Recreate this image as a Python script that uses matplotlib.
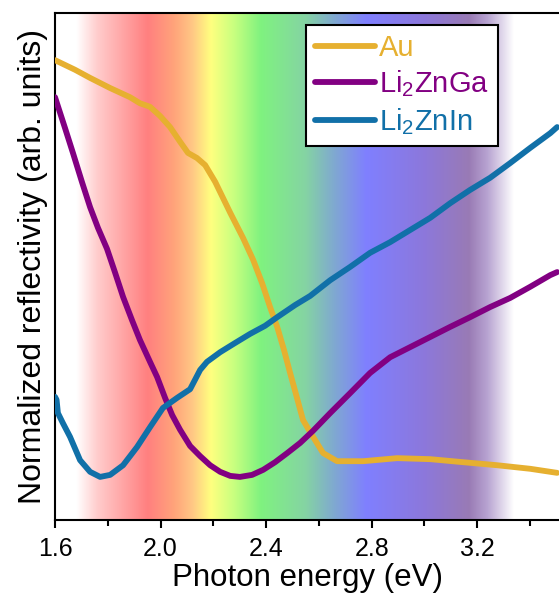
import numpy as np
import matplotlib
matplotlib.use("Agg")
import matplotlib.pyplot as plt
from matplotlib.colors import LinearSegmentedColormap

plt.rcParams['font.family'] = ['Liberation Sans', 'DejaVu Sans']
plt.rcParams['mathtext.fontset'] = 'custom'
plt.rcParams['mathtext.rm'] = 'Liberation Sans'
plt.rcParams['mathtext.it'] = 'Liberation Sans'
plt.rcParams['mathtext.default'] = 'regular'

# ---- data ----
au_e = [1.600, 1.676, 1.733, 1.809, 1.884, 1.922, 1.960, 1.998, 2.036, 2.074, 2.104,
        2.138, 2.169, 2.207, 2.264, 2.313, 2.351, 2.385, 2.415, 2.442, 2.468, 2.491,
        2.517, 2.540, 2.578, 2.616, 2.669, 2.768, 2.897, 3.022, 3.147, 3.276, 3.401, 3.503]
au_r = [0.907, 0.888, 0.872, 0.852, 0.834, 0.822, 0.815, 0.797, 0.775, 0.746, 0.724,
        0.714, 0.700, 0.667, 0.606, 0.556, 0.513, 0.467, 0.420, 0.381, 0.335, 0.290,
        0.241, 0.197, 0.164, 0.132, 0.116, 0.116, 0.122, 0.120, 0.114, 0.108, 0.101, 0.093]

ga_e = [1.600, 1.638, 1.668, 1.702, 1.733, 1.763, 1.797, 1.827, 1.858, 1.892, 1.922,
        1.960, 1.987, 2.017, 2.044, 2.074, 2.112, 2.150, 2.188, 2.226, 2.264, 2.301,
        2.347, 2.389, 2.434, 2.480, 2.529, 2.578, 2.643, 2.718, 2.794, 2.870, 2.946,
        3.022, 3.098, 3.173, 3.249, 3.325, 3.401, 3.477, 3.503]
ga_r = [0.834, 0.773, 0.724, 0.667, 0.617, 0.576, 0.535, 0.489, 0.440, 0.394, 0.355,
        0.312, 0.282, 0.241, 0.207, 0.178, 0.146, 0.126, 0.108, 0.095, 0.087, 0.085,
        0.089, 0.099, 0.114, 0.132, 0.152, 0.176, 0.211, 0.250, 0.290, 0.321, 0.341,
        0.361, 0.381, 0.400, 0.420, 0.438, 0.460, 0.483, 0.489]

in_e = [1.600, 1.606, 1.611, 1.630, 1.657, 1.695, 1.733, 1.771, 1.809, 1.858, 1.911,
        1.960, 2.009, 2.063, 2.112, 2.150, 2.176, 2.226, 2.282, 2.339, 2.396, 2.442,
        2.510, 2.567, 2.643, 2.718, 2.794, 2.870, 2.946, 3.022, 3.098, 3.173, 3.249,
        3.325, 3.401, 3.477, 3.503]
in_r = [0.243, 0.237, 0.211, 0.191, 0.164, 0.118, 0.095, 0.085, 0.089, 0.108, 0.144,
        0.183, 0.221, 0.241, 0.258, 0.296, 0.312, 0.331, 0.349, 0.367, 0.383, 0.400,
        0.424, 0.442, 0.473, 0.499, 0.527, 0.548, 0.572, 0.596, 0.625, 0.651, 0.675,
        0.704, 0.734, 0.763, 0.775]

labels = ['Au', 'Li$_2$ZnGa', 'Li$_2$ZnIn']
colors = ['#E6B030', '#820082', '#1170A8']

xticks = [1.6, 2.0, 2.4, 2.8, 3.2]
xlim = (1.6, 3.51)

# ---- visible-spectrum background ----
spec_stops = [
    (1.60, (1.00, 1.00, 1.00)),
    (1.68, (1.00, 1.00, 1.00)),
    (1.76, (1.00, 0.80, 0.80)),
    (1.95, (1.00, 0.50, 0.50)),
    (2.05, (1.00, 0.64, 0.48)),
    (2.12, (1.00, 0.78, 0.52)),
    (2.19, (1.00, 1.00, 0.50)),
    (2.28, (0.78, 1.00, 0.50)),
    (2.38, (0.50, 0.95, 0.50)),
    (2.55, (0.52, 0.83, 0.64)),
    (2.66, (0.50, 0.66, 0.82)),
    (2.78, (0.50, 0.50, 1.00)),
    (3.00, (0.55, 0.47, 0.86)),
    (3.17, (0.60, 0.48, 0.71)),
    (3.24, (0.72, 0.64, 0.82)),
    (3.34, (1.00, 1.00, 1.00)),
    (3.51, (1.00, 1.00, 1.00)),
]
lo, hi = spec_stops[0][0], spec_stops[-1][0]
cmap = LinearSegmentedColormap.from_list(
    'spec', [((e - lo) / (hi - lo), c) for e, c in spec_stops], N=512)

fig = plt.figure(figsize=(5.59, 6.06), dpi=100)
ax = fig.add_axes([55 / 559, 1 - 520 / 606, 1 - 55 / 559, (520 - 13) / 606])

grad = np.linspace(0, 1, 512).reshape(1, -1)
ax.imshow(grad, cmap=cmap, aspect='auto', extent=[lo, hi, 0, 1],
          origin='lower', zorder=0, interpolation='bilinear')

for e, r, lab, col in zip([au_e, ga_e, in_e], [au_r, ga_r, in_r], labels, colors):
    ax.plot(e, r, color=col, lw=4.2, label=lab, solid_joinstyle='round',
            solid_capstyle='round', zorder=3)

ax.set_xlim(*xlim)
ax.set_ylim(0, 1)
ax.set_xticks(xticks)
ax.set_xticklabels([f'{t:.1f}' for t in xticks])
ax.set_xticks([1.8, 2.2, 2.6, 3.0, 3.4], minor=True)
ax.set_yticks([])
ax.tick_params(axis='x', which='major', direction='out', length=6, width=1.5,
               labelsize=18, pad=6)
ax.tick_params(axis='x', which='minor', direction='out', length=4, width=1.5)
for s in ['left', 'bottom', 'top']:
    ax.spines[s].set_linewidth(1.5)
ax.spines['right'].set_visible(False)

ax.set_xlabel('Photon energy (eV)', fontsize=22.5, labelpad=2)
ax.set_ylabel('Normalized reflectivity (arb. units)', fontsize=23, labelpad=5)

leg = ax.legend(loc='upper left', bbox_to_anchor=(0.498, 0.976), borderaxespad=0,
                fontsize=21, frameon=True, fancybox=False, handlelength=2.05,
                handletextpad=0.15, labelspacing=0.23, borderpad=0.3)
leg.get_frame().set_edgecolor('black')
leg.get_frame().set_linewidth(1.5)
leg.get_frame().set_alpha(1)
for t, c in zip(leg.get_texts(), colors):
    t.set_color(c)

fig.savefig('out.png', dpi=100)
